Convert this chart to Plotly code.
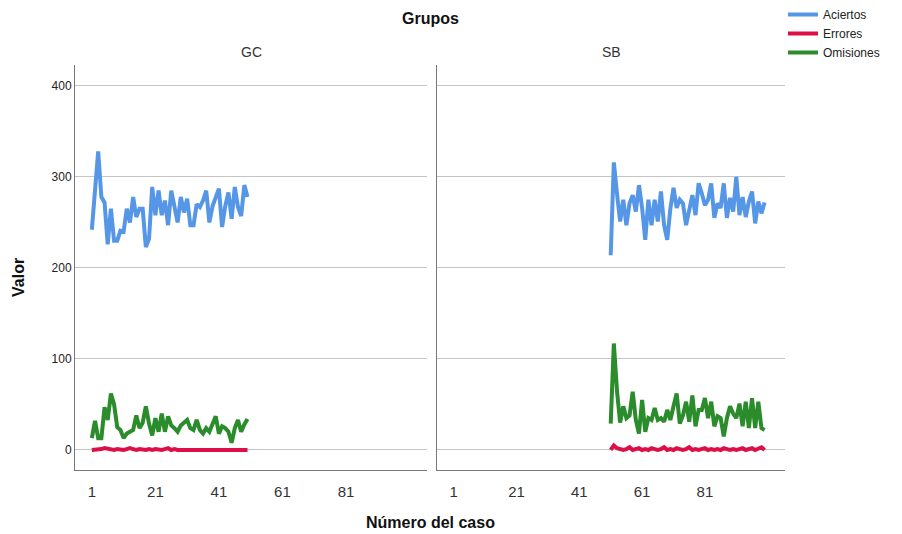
import plotly.graph_objects as go

cases_gc = list(range(1, 51))
cases_sb = list(range(51, 101))

gc_aciertos = [242, 292, 328, 278, 272, 226, 265, 230, 230, 241,
               240, 265, 250, 278, 256, 265, 265, 223, 232, 289,
               258, 285, 258, 274, 247, 285, 267, 250, 278, 261,
               276, 247, 247, 270, 267, 274, 285, 250, 268, 279,
               287, 245, 268, 283, 254, 289, 267, 257, 291, 278]
gc_errores = [0, 0, 0, 1, 2, 1, 0, 0, 1, 0,
              0, 1, 2, 1, 0, 1, 0, 0, 1, 0,
              1, 0, 0, 1, 2, 0, 1, 0, 0, 1,
              0, 0, 1, 0, 1, 0, 0, 1, 0, 0,
              1, 0, 0, 1, 0, 1, 0, 0, 1, 0]
gc_omisiones = [13, 32, 13, 13, 47, 33, 62, 50, 25, 22,
                13, 18, 20, 22, 38, 24, 30, 48, 29, 16,
                35, 20, 40, 20, 37, 27, 24, 20, 27, 30,
                33, 24, 22, 33, 22, 18, 24, 20, 28, 37,
                18, 26, 24, 20, 8, 24, 33, 20, 28, 34]

sb_aciertos = [214, 316, 282, 251, 275, 247, 271, 280, 262, 291,
               266, 231, 275, 247, 275, 251, 284, 247, 231, 265,
               288, 266, 275, 271, 247, 264, 280, 258, 293, 282,
               269, 275, 293, 255, 271, 266, 293, 255, 277, 262,
               300, 258, 278, 256, 273, 284, 249, 273, 260, 272]
sb_errores = [0, 5, 2, 1, 0, 1, 3, 0, 1, 2,
              0, 1, 0, 2, 1, 0, 1, 3, 0, 1,
              0, 2, 1, 0, 1, 3, 0, 1, 0, 1,
              2, 0, 1, 0, 1, 0, 2, 1, 0, 1,
              0, 1, 2, 0, 1, 2, 0, 1, 3, 0]
sb_omisiones = [29, 117, 65, 30, 48, 35, 38, 64, 33, 18,
                55, 20, 35, 33, 46, 33, 35, 31, 44, 33,
                48, 62, 29, 38, 53, 31, 60, 26, 44, 44,
                57, 35, 53, 26, 37, 35, 15, 35, 48, 40,
                35, 51, 26, 53, 24, 57, 24, 53, 24, 22]

series_names = ["Aciertos", "Errores", "Omisiones"]
colors = ["#5596e6", "#dc0f46", "#2a8c2a"]
x_ticks = [1, 21, 41, 61, 81]
y_ticks = [0, 100, 200, 300, 400]

fig = go.Figure()
gc_data = [gc_aciertos, gc_errores, gc_omisiones]
sb_data = [sb_aciertos, sb_errores, sb_omisiones]
for name, col, ys in zip(series_names, colors, gc_data):
    fig.add_trace(go.Scatter(x=cases_gc, y=ys, mode="lines", name=name,
                             line=dict(color=col, width=4), xaxis="x", yaxis="y",
                             legendgroup=name, showlegend=True))
for name, col, ys in zip(series_names, colors, sb_data):
    fig.add_trace(go.Scatter(x=cases_sb, y=ys, mode="lines", name=name,
                             line=dict(color=col, width=4), xaxis="x2", yaxis="y2",
                             legendgroup=name, showlegend=False))

font = "Liberation Sans, Arial, sans-serif"
xcommon = dict(range=[-4.3, 106.5], tickvals=x_ticks, ticktext=[str(v) for v in x_ticks],
               showgrid=False, zeroline=False, showline=True, linecolor="#777777",
               linewidth=1, ticks="", ticklabelstandoff=8,
               tickfont=dict(family=font, size=15, color="#333333"))
ycommon = dict(range=[-22, 423], tickvals=y_ticks, showgrid=True, gridcolor="#c4c4c4",
               gridwidth=1, zeroline=False, showline=True, linecolor="#777777",
               linewidth=1, ticks="", tickfont=dict(family=font, size=12, color="#222222"))

fig.update_layout(
    width=902, height=534,
    margin=dict(l=75, r=117, t=65, b=64, autoexpand=False),
    paper_bgcolor="white", plot_bgcolor="white",
    font=dict(family=font),
    xaxis=dict(domain=[0, 0.4958], anchor="y", **xcommon),
    xaxis2=dict(domain=[0.5099, 1], anchor="y2", **xcommon),
    yaxis=dict(domain=[0, 1], anchor="x", **ycommon),
    yaxis2=dict(domain=[0, 1], anchor="x2", matches="y", showticklabels=False, **ycommon),
    legend=dict(xref="container", yref="container", x=783 / 902, y=1.0,
                xanchor="left", yanchor="top",
                font=dict(family=font, size=12, color="#222222"),
                itemwidth=30, tracegroupgap=0, bgcolor="rgba(0,0,0,0)"),
    showlegend=True,
    annotations=[
        dict(text="<b>Grupos</b>", x=0.5, y=(470 - 19) / 405, xref="paper", yref="paper",
             showarrow=False, font=dict(family=font, size=16, color="#111111"),
             xanchor="center", yanchor="middle"),
        dict(text="GC", x=0.2479, y=(470 - 52) / 405, xref="paper", yref="paper",
             showarrow=False, font=dict(family=font, size=14, color="#333333"),
             xanchor="center", yanchor="middle"),
        dict(text="SB", x=0.755, y=(470 - 52) / 405, xref="paper", yref="paper",
             showarrow=False, font=dict(family=font, size=14, color="#333333"),
             xanchor="center", yanchor="middle"),
        dict(text="<b>Número del caso</b>", x=0.5, y=(470 - 522) / 405, xref="paper", yref="paper",
             showarrow=False, font=dict(family=font, size=16, color="#111111"),
             xanchor="center", yanchor="middle"),
        dict(text="<b>Valor</b>", x=(18 - 75) / 710, y=(470 - 278) / 405, xref="paper", yref="paper",
             showarrow=False, textangle=-90, font=dict(family=font, size=16, color="#111111"),
             xanchor="center", yanchor="middle"),
    ],
)

fig.write_html("out.html")
